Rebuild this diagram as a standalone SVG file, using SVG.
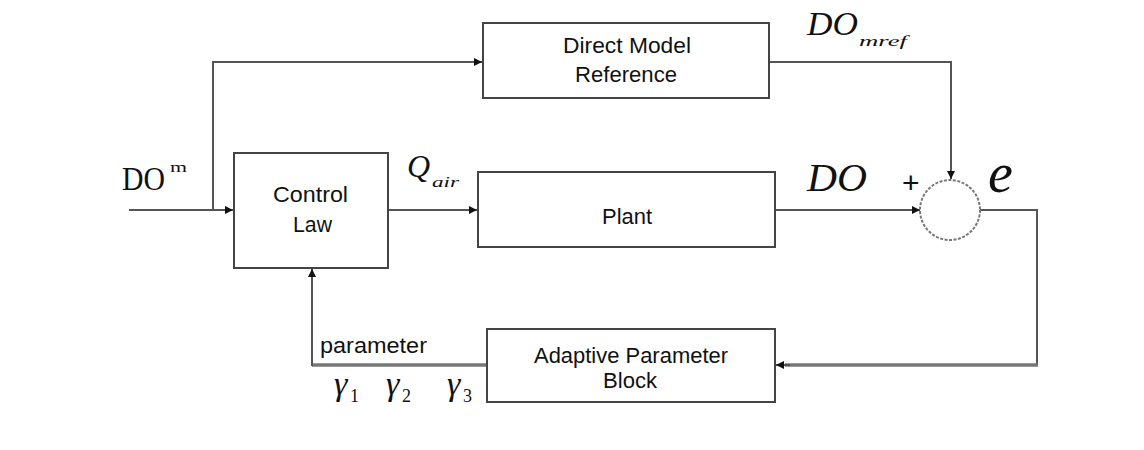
<svg xmlns="http://www.w3.org/2000/svg" width="1144" height="450" viewBox="0 0 1144 450">
<style>
.box{fill:#fff;stroke:#444;stroke-width:2}
.wire{fill:none;stroke:#555;stroke-width:2}
.thick{fill:none;stroke:#777;stroke-width:3.5}
.lbl{font-family:"Liberation Sans",Arial,sans-serif;font-size:22px;fill:#111}
.math{font-family:"Liberation Serif","Times New Roman",serif;font-style:italic;fill:#111}
.up{font-family:"Liberation Serif","Times New Roman",serif;fill:#111}
</style>
<defs>
<marker id="arr" markerUnits="userSpaceOnUse" markerWidth="9" markerHeight="8" refX="8" refY="4" orient="auto">
<path d="M0,0 L8,4 L0,8 z" fill="#111"/>
</marker>
</defs>
<rect width="1144" height="450" fill="#fff"/>
<g id="connectors">
<path class="wire" d="M129,210 H233" marker-end="url(#arr)"/>
<path class="wire" d="M213,210 V62 H482" marker-end="url(#arr)"/>
<path class="wire" d="M769,62 H951 V179" marker-end="url(#arr)"/>
<path class="wire" d="M388,210 H477" marker-end="url(#arr)"/>
<path class="wire" d="M775,210 H920" marker-end="url(#arr)"/>
<path class="wire" d="M980,210 H1037 V366" stroke="#777" stroke-width="2.5"/>
<path class="thick" d="M1038,365 H785"/>
<path class="wire" d="M790,365 H776" marker-end="url(#arr)"/>
<path class="thick" d="M487,365 H312"/>
<path class="wire" d="M312,366 V269" marker-end="url(#arr)"/>
</g>
<g id="dmr">
<rect class="box" x="483" y="23" width="286" height="75"/>
<text class="lbl" x="563" y="53" textLength="128" lengthAdjust="spacingAndGlyphs">Direct Model</text>
<text class="lbl" x="575" y="82" textLength="102" lengthAdjust="spacingAndGlyphs">Reference</text>
</g>
<g id="control">
<rect class="box" x="234" y="153" width="154" height="115"/>
<text class="lbl" x="273" y="202" textLength="75" lengthAdjust="spacingAndGlyphs">Control</text>
<text class="lbl" x="293" y="232" textLength="39" lengthAdjust="spacingAndGlyphs">Law</text>
</g>
<g id="plant">
<rect class="box" x="478" y="172" width="297" height="75"/>
<text class="lbl" x="602" y="224" textLength="50" lengthAdjust="spacingAndGlyphs">Plant</text>
</g>
<g id="adaptive">
<rect class="box" x="487" y="329" width="288" height="73"/>
<text class="lbl" x="534" y="363" textLength="194" lengthAdjust="spacingAndGlyphs">Adaptive Parameter</text>
<text class="lbl" x="603" y="388" textLength="54" lengthAdjust="spacingAndGlyphs">Block</text>
</g>
<g id="sum">
<circle cx="950" cy="210" r="30" fill="none" stroke="#777" stroke-width="2" stroke-dasharray="3 1.5"/>
<text x="902" y="193" font-family="Liberation Sans,Arial,sans-serif" font-size="30" fill="#111">+</text>
</g>
<g id="labels">
<text class="up" x="122" y="190" font-size="34" textLength="43" lengthAdjust="spacingAndGlyphs">DO</text>
<text class="up" x="170" y="172" font-size="14" textLength="17" lengthAdjust="spacingAndGlyphs">m</text>
<text class="math" x="407" y="177" font-size="32">Q</text>
<text class="math" x="432" y="187" font-size="15" textLength="27" lengthAdjust="spacingAndGlyphs">air</text>
<text class="math" x="807" y="191" font-size="40" textLength="60" lengthAdjust="spacingAndGlyphs">DO</text>
<text class="math" x="988" y="192" font-size="56">e</text>
<text class="math" x="807" y="35" font-size="34" textLength="51" lengthAdjust="spacingAndGlyphs">DO</text>
<text class="math" x="859" y="46" font-size="14" textLength="48" lengthAdjust="spacingAndGlyphs">mref</text>
<text class="lbl" x="320" y="353" textLength="107" lengthAdjust="spacingAndGlyphs">parameter</text>
<text class="math" x="334" y="395" font-size="34">γ</text>
<text class="up" x="350" y="402" font-size="18">1</text>
<text class="math" x="386" y="395" font-size="34">γ</text>
<text class="up" x="402" y="402" font-size="18">2</text>
<text class="math" x="447" y="395" font-size="34" fill="#555">γ</text>
<text class="up" x="463" y="402" font-size="18" fill="#555">3</text>
</g>
</svg>
